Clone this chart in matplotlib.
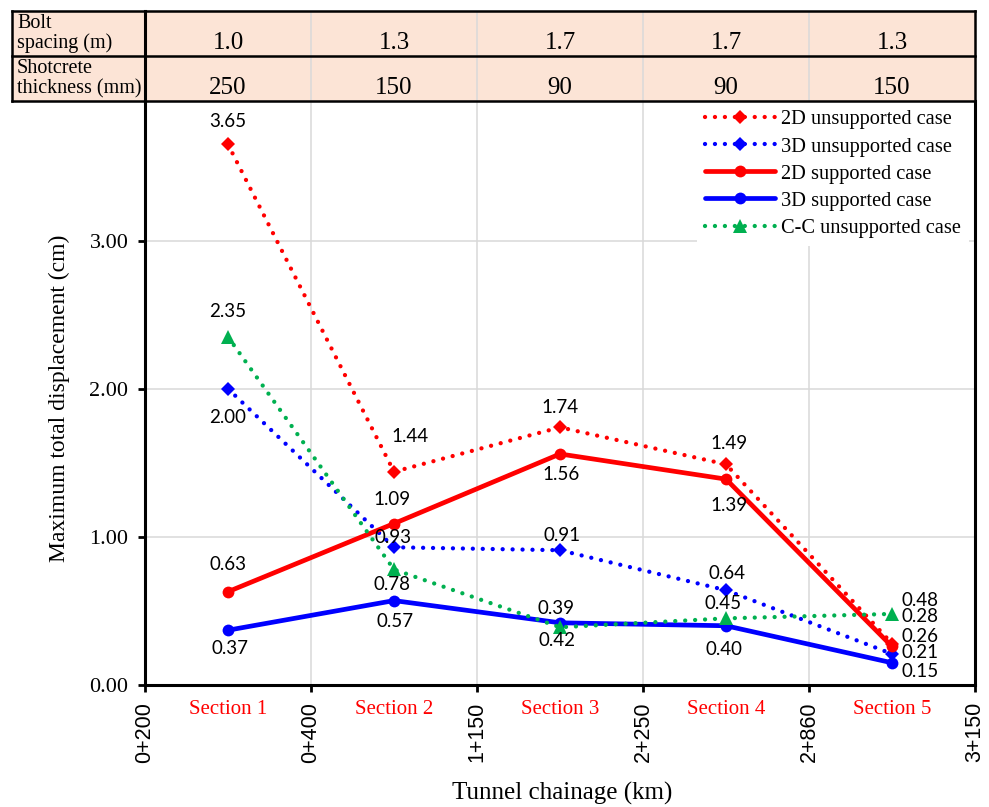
import matplotlib
matplotlib.use("Agg")
import matplotlib.pyplot as plt
import numpy as np
from matplotlib.patches import Rectangle

# ---------------- data ----------------
sections = ["Section 1", "Section 2", "Section 3", "Section 4", "Section 5"]
chainage_ticks = ["0+200", "0+400", "1+150", "2+250", "2+860", "3+150"]
bolt_spacing = ["1.0", "1.3", "1.7", "1.7", "1.3"]
shotcrete_thickness = ["250", "150", "90", "90", "150"]

unsup_2d = [3.65, 1.44, 1.74, 1.49, 0.28]
unsup_3d = [2.00, 0.93, 0.91, 0.64, 0.21]
sup_2d = [0.63, 1.09, 1.56, 1.39, 0.26]
sup_3d = [0.37, 0.57, 0.42, 0.40, 0.15]
cc_unsup = [2.35, 0.78, 0.39, 0.45, 0.48]

series_names = ["2D unsupported case", "3D unsupported case", "2D supported case",
                "3D supported case", "C-C unsupported case"]
series_values = [unsup_2d, unsup_3d, sup_2d, sup_3d, cc_unsup]

# ---------------- styling ----------------
RED, BLUE, GREEN = "#FF0000", "#0000FF", "#00B050"
styles = [
    dict(color=RED, dotted=True, marker="D", ms=7),
    dict(color=BLUE, dotted=True, marker="D", ms=7),
    dict(color=RED, dotted=False, marker="o", ms=8.5),
    dict(color=BLUE, dotted=False, marker="o", ms=8.5),
    dict(color=GREEN, dotted=True, marker="^", ms=10.5),
]
# data-label offsets (pixels, image y downward) for each series / point
label_offsets_px = [
    [(0, -23), (16, -35), (0, -20), (3, -21), (28, -27)],
    [(0, 29), (-1, -10), (2, -15), (1, -17), (28, -1)],
    [(0, -27), (-2, -24), (1, 21), (3, 26), (28, -10)],
    [(2, 18), (1, 21), (-3, 18), (-2, 24), (28, 9)],
    [(0, -25), (-2, 15), (-4, -19), (-3, -15), (28, -13)],
]

SERIF = "Liberation Serif"
SANS = "Liberation Sans"
LABELF = "Lato"

W, H = 989, 807
fig = plt.figure(figsize=(W / 100, H / 100), dpi=100)


def fx(px):
    return px / W


def fy(py):
    return 1 - py / H


AX_L, AX_R, AX_T, AX_B = 145, 975, 101, 685
ax = fig.add_axes([fx(AX_L), fy(AX_B), fx(AX_R) - fx(AX_L), fy(AX_T) - fy(AX_B)])
ax.set_xlim(0, 5)
ax.set_ylim(0, (AX_B - AX_T) / 148.1)

x = np.arange(len(sections)) + 0.5

for name, vals, st in zip(series_names, series_values, styles):
    if st["dotted"]:
        ax.plot(x, vals, color=st["color"], lw=3.1, linestyle=(0, (0.01, 2.3)),
                dash_capstyle="round", marker=st["marker"], ms=st["ms"],
                markeredgewidth=0, label=name, zorder=3)
    else:
        ax.plot(x, vals, color=st["color"], lw=3.4, linestyle="-",
                solid_capstyle="round", marker=st["marker"], ms=st["ms"],
                markeredgewidth=0, label=name, zorder=3)

for vals, offs in zip(series_values, label_offsets_px):
    for xi, v, (dx, dy) in zip(x, vals, offs):
        ax.annotate(f"{v:.2f}", (xi, v), xytext=(dx * 0.72, -dy * 0.72),
                    textcoords="offset points", ha="center", va="center",
                    fontfamily=LABELF, fontsize=13.5, color="black", zorder=10)

# grid
ax.set_xticks(range(6))
ax.set_xticklabels(chainage_ticks, rotation=90, fontfamily=SANS, fontsize=15.5)
ax.set_yticks([0, 1, 2, 3])
ax.set_yticklabels(["0.00", "1.00", "2.00", "3.00"], fontfamily=SERIF, fontsize=16)
ax.grid(True, color="#D9D9D9", lw=1.1, zorder=0)
ax.set_axisbelow(True)
ax.tick_params(axis="both", direction="out", length=5, width=2, color="black")
ax.tick_params(axis="x", pad=7)
ax.tick_params(axis="y", pad=7)
for s in ["left", "bottom", "right"]:
    ax.spines[s].set_linewidth(2.2)
    ax.spines[s].set_color("black")
ax.spines["top"].set_visible(False)

# section labels
for xi, s in zip(x, sections):
    ax.text(xi, -(709 - AX_B) / (AX_B - AX_T), s, transform=ax.get_xaxis_transform(),
            ha="center", va="center", color=RED, fontfamily=SERIF, fontsize=15)

# axis labels
fig.text(fx(59), fy(398), "Maximum total displacement (cm)", rotation=90,
         ha="center", va="center", fontfamily=SERIF, fontsize=17)
fig.text(fx(562), fy(793), "Tunnel chainage (km)", ha="center", va="center",
         fontfamily=SERIF, fontsize=18)

# legend
leg = ax.legend(loc="upper right", bbox_to_anchor=(1 - 5 / 830, 1), borderaxespad=0.05,
                prop={"family": SERIF, "size": 14.7}, handlelength=3.4,
                handletextpad=0.3, labelspacing=0.38, numpoints=1,
                frameon=True, facecolor="white", edgecolor="none", framealpha=1)
leg.set_zorder(20)

# ---------------- table ----------------
TB_L, TB_T = 12, 11
tab = fig.add_axes([fx(TB_L), fy(AX_T), fx(AX_R) - fx(TB_L), fy(TB_T) - fy(AX_T)])
hdr_w = (AX_L - TB_L) / 166.0
tab.set_xlim(-hdr_w, 5)
tab.set_ylim(0, AX_T - TB_T)
tab.axis("off")
th = AX_T - TB_T
mid = 45
tab.add_patch(Rectangle((-hdr_w, 0), 5 + hdr_w, th, facecolor="#FCE4D6",
                        edgecolor="none", zorder=0))
for xv in range(1, 5):
    tab.plot([xv, xv], [0, th], color="#D9D9D9", lw=1.1, zorder=1)
for yv in [0, mid, th]:
    tab.plot([-hdr_w, 5], [yv, yv], color="black", lw=1.8, zorder=2, clip_on=False,
             solid_capstyle="projecting")
for xv, lw in [(-hdr_w, 1.8), (0, 2.2), (5, 1.8)]:
    tab.plot([xv, xv], [0, th], color="black", lw=lw, zorder=2, clip_on=False,
             solid_capstyle="projecting")

tab.text(-hdr_w + 0.03, mid + 3, "Bolt\nspacing (m)", ha="left", va="bottom",
         fontfamily=SERIF, fontsize=14.5, linespacing=1.05)
tab.text(-hdr_w + 0.03, 3, "Shotcrete\nthickness (mm)", ha="left", va="bottom",
         fontfamily=SERIF, fontsize=14.5, linespacing=1.05)
for i, (b, t) in enumerate(zip(bolt_spacing, shotcrete_thickness)):
    tab.text(i + 0.5, mid + 7, b, ha="center", va="baseline", fontfamily=SERIF, fontsize=18)
    tab.text(i + 0.5, 7, t, ha="center", va="baseline", fontfamily=SERIF, fontsize=18)

fig.savefig("out.png", dpi=100)
